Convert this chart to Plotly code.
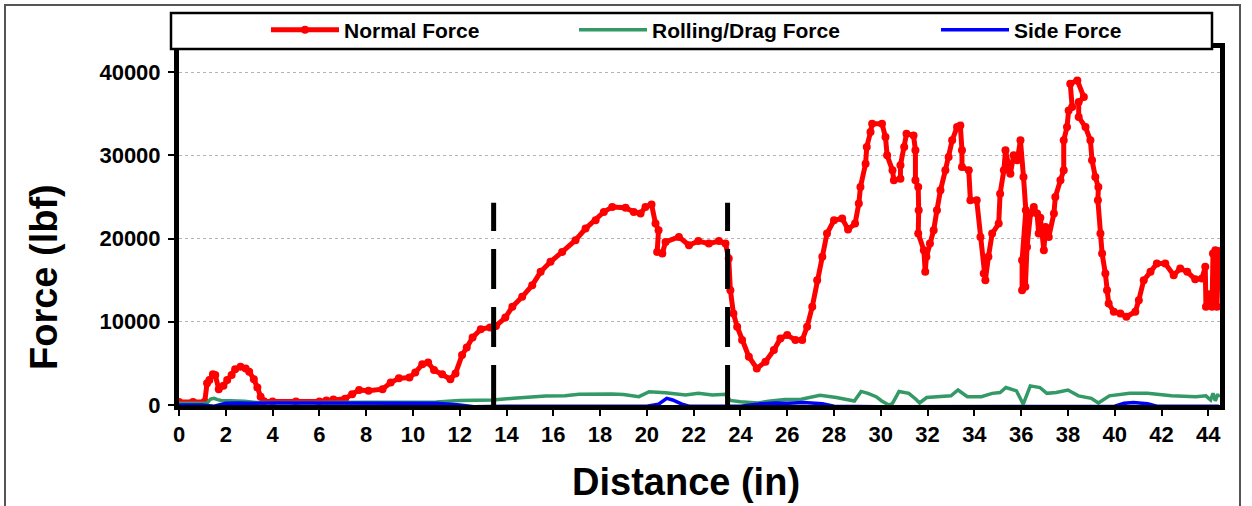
import plotly.graph_objects as go

# Distance (in) and force (lbf) samples for each force component
normal_x = [0, 0.6, 1.1, 1.2, 1.3, 1.45, 1.55, 1.7, 1.9, 2.06, 2.25, 2.4, 2.63, 2.85, 3.0, 3.2, 3.35, 3.49, 3.63,
            4.0, 5.0, 6.0, 6.3, 6.6, 7.1, 7.4, 7.7, 8.1, 8.7, 9.05, 9.4, 9.85, 10.1, 10.4, 10.65, 10.9, 11.25,
            11.6, 11.82, 12.1, 12.3, 12.55, 12.9, 13.3, 13.55, 13.95, 14.25, 14.67, 15.1, 15.46, 15.88, 16.38,
            16.95, 17.38, 17.81, 18.16, 18.52, 19.09, 19.44, 19.73, 19.94, 20.2, 20.37, 20.5, 20.44, 20.66,
            20.8, 21.37, 21.8, 22.2, 22.65, 23.08, 23.36, 23.5, 23.57, 23.7, 23.86, 24.07, 24.36, 24.7, 25.07,
            25.43, 25.71, 26.0, 26.35, 26.64, 26.85, 27.07, 27.28, 27.5, 27.7, 28.0, 28.35, 28.6, 28.9, 29.06,
            29.13, 29.35, 29.4, 29.56, 29.63, 30.05, 30.2, 30.27, 30.5, 30.56, 30.84, 30.84, 31.0, 31.1, 31.4,
            31.48, 31.48, 31.6, 31.62, 31.6, 31.84, 31.9, 31.95, 32.1, 32.26, 32.4, 32.55, 32.76, 32.9, 33.05,
            33.26, 33.4, 33.47, 33.47, 33.76, 33.83, 34.1, 34.26, 34.4, 34.47, 34.6, 34.76, 35.04, 35.1, 35.26,
            35.33, 35.54, 35.68, 35.83, 35.97, 36.1, 36.2, 36.04, 36.04, 36.18, 36.25, 36.4, 36.54, 36.68,
            36.75, 36.82, 36.97, 37.04, 37.18, 37.4, 37.46, 37.68, 37.82, 37.82, 37.96, 38.03, 38.18, 38.1,
            38.4, 38.68, 38.46, 38.46, 38.75, 38.96, 39.03, 39.17, 39.3, 39.28, 39.39, 39.46, 39.6, 39.67,
            39.74, 39.96, 40.24, 40.5, 40.88, 41.03, 41.24, 41.53, 41.8, 42.16, 42.52, 42.8, 43.1, 43.44,
            43.73, 43.87, 43.9, 44.02, 44.16, 44.2, 44.3, 44.37, 44.44]
normal_f = [350, 350, 380, 2600, 3000, 3700, 3600, 1900, 2300, 3000, 3600, 4300, 4600, 4400, 4000, 3100, 2100, 1000, 450,
            420, 420, 430, 550, 650, 750, 1300, 1800, 1700, 1900, 2700, 3200, 3300, 3900, 4900, 5100, 4200, 3700,
            3100, 3800, 6000, 6900, 8100, 9100, 9300, 9500, 10500, 11800, 13000, 14400, 16000, 17200, 18400,
            19800, 21200, 22200, 23200, 23800, 23700, 23200, 23000, 23800, 24100, 21800, 21000, 18400, 18200,
            19600, 20200, 19200, 19700, 19400, 19700, 19400, 17600, 13800, 11000, 9400, 7800, 5800, 4400, 5200,
            6600, 8000, 8400, 7800, 7800, 9400, 11800, 15000, 17800, 20600, 22200, 22400, 21100, 21800, 24200,
            26200, 29000, 31000, 32800, 33800, 33800, 32200, 30000, 28200, 27000, 27200, 28800, 31000, 32600, 32400,
            30600, 27000, 26200, 23400, 20600, 18600, 16000, 17800, 19400, 21000, 23400, 25800, 28200, 29800, 31800,
            33400, 33600, 30600, 28600, 28200, 24600, 24600, 20200, 15800, 15000, 17800, 20600, 21800, 25400, 28200,
            30600, 27800, 30000, 29400, 31800, 27400, 23400, 17400, 13800, 14200, 19000, 23000, 23800, 23000,
            20600, 22500, 18600, 21400, 20200, 23000, 25000, 27000, 28200, 31800, 33400, 35400, 35800, 38600,
            39000, 37000, 36400, 34600, 33400, 31800, 29400, 27400, 26200, 24600, 20600, 18200, 15800, 13800,
            12200, 11200, 11000, 10600, 11200, 12600, 15000, 16000, 17000, 17000, 15600, 16400, 16000, 15100,
            15200, 16600, 11800, 13300, 11800, 18200, 18600, 11800, 18500]

rolling_x = [0, 1.2, 1.35, 1.5, 1.65, 1.8, 2.2, 2.8, 3.3, 4.0, 6.0, 8.0, 10.0, 11.0, 12.0, 13.4, 14.3, 15.67,
             16.5, 17.1, 18.5, 19.0, 19.66, 20.1, 20.8, 21.65, 22.2, 22.8, 23.36, 23.56, 24.0, 24.74, 25.2,
             25.9, 26.6, 27.4, 28.1, 28.87, 29.16, 29.45, 29.8, 30.04, 30.34, 30.5, 30.78, 31.2, 31.5, 31.66,
             31.96, 32.5, 33.0, 33.3, 33.7, 34.3, 34.76, 35.1, 35.35, 35.8, 36.09, 36.39, 36.8, 37.1, 37.5,
             38.0, 38.45, 39.0, 39.3, 39.77, 40.64, 41.4, 42.43, 43.46, 43.9, 44.1, 44.2, 44.3, 44.4, 44.45]
rolling_f = [200, 250, 700, 800, 650, 550, 500, 450, 300, 280, 300, 320, 400, 350, 550, 600, 800, 1080,
             1100, 1280, 1320, 1250, 1000, 1600, 1480, 1200, 1400, 1200, 1280, 550, 400, 240, 450,
             650, 700, 1170, 900, 480, 1630, 1400, 1000, 480, 0, 200, 1630, 1400, 700, 240,
             900, 950, 1100, 1800, 1000, 1000, 1400, 1500, 2100, 1700, 100, 2300, 2100, 1400, 1500,
             1800, 1100, 800, 240, 1100, 1400, 1400, 1100, 1000, 1100, 600, 1400, 500, 1300, 900]

side_x = [0, 1.0, 1.5, 2.0, 2.5, 3.0, 4.0, 6.0, 8.0, 10.0, 11.0, 12.0, 12.6, 14.0, 16.0, 18.0, 20.0, 20.5,
          20.85, 21.1, 21.5, 21.8, 24.0, 24.9, 25.5, 26.0, 26.7, 27.5, 28.0, 30.0, 35.0, 40.0, 40.4, 40.8,
          41.4, 41.8, 44.45]
side_f = [0, 0, -150, 200, 250, 200, 250, 250, 250, 250, 200, 0, -200, -150, -150, -150, -150, 100,
          800, 600, 100, -150, -150, 150, 250, 200, 300, 150, -150, -200, -200, -150, 200, 300,
          150, -150, -150]

# Start and end of the region of interest
marker_lines = [13.45, 23.45]
marker_top = 24300

x_ticks = list(range(0, 45, 2))
y_ticks = [0, 10000, 20000, 30000, 40000]

FONT = "Liberation Sans, Arial, sans-serif"
L, R, T, B = 179, 32, 48, 101
W, H = 1252, 506
PW, PH = W - L - R, H - T - B


def px(xp):
    return (xp - L) / PW


def py(yp):
    return (H - B - yp) / PH


fig = go.Figure()
fig.add_trace(go.Scatter(
    x=normal_x, y=normal_f, name="Normal Force", mode="lines+markers",
    line=dict(color="#FF0000", width=5), marker=dict(color="#FF0000", size=8),
    legend="legend"))
fig.add_trace(go.Scatter(
    x=rolling_x, y=rolling_f, name="Rolling/Drag Force", mode="lines",
    line=dict(color="#339966", width=3.5), legend="legend2"))
fig.add_trace(go.Scatter(
    x=side_x, y=side_f, name="Side Force", mode="lines",
    line=dict(color="#0000FF", width=3.5), legend="legend3"))

for xv in marker_lines:
    fig.add_shape(type="line", xref="x", yref="y", x0=xv, x1=xv, y0=0, y1=marker_top,
                  line=dict(color="black", width=5, dash="40px,18px"))

# Outer chart frame
fig.add_shape(type="rect", xref="paper", yref="paper", layer="below",
              x0=px(5), x1=px(1240), y0=py(520), y1=py(5),
              line=dict(color="#555555", width=2), fillcolor="rgba(0,0,0,0)")
# Legend box
fig.add_shape(type="rect", xref="paper", yref="paper", layer="above",
              x0=px(171), x1=px(1212), y0=py(49), y1=py(13),
              line=dict(color="black", width=2.5), fillcolor="white")

leg_common = dict(yanchor="middle", xanchor="left", y=py(30), bgcolor="rgba(0,0,0,0)",
                  borderwidth=0, itemwidth=68,
                  font=dict(family=FONT, size=21, color="black", weight="bold"))

fig.update_layout(
    width=W, height=H,
    margin=dict(l=L, r=R, t=T, b=B, autoexpand=False),
    paper_bgcolor="white", plot_bgcolor="white",
    showlegend=True,
    legend=dict(x=px(266), **leg_common),
    legend2=dict(x=px(574), **leg_common),
    legend3=dict(x=px(936), **leg_common),
    xaxis=dict(range=[0, 44.5], tickvals=x_ticks, ticktext=[str(v) for v in x_ticks],
               showline=True, linecolor="black", linewidth=5, mirror=True,
               ticks="outside", ticklen=6, tickwidth=1.5, tickcolor="black",
               showgrid=False, zeroline=False,
               tickfont=dict(family=FONT, size=22, color="black", weight="bold")),
    yaxis=dict(range=[0, 42900], tickvals=y_ticks, ticktext=[str(v) for v in y_ticks],
               showline=True, linecolor="black", linewidth=5, mirror=True,
               ticks="outside", ticklen=6, tickwidth=1.5, tickcolor="black",
               ticklabelstandoff=3,
               showgrid=True, gridcolor="#b4b4b4", griddash="dot", gridwidth=1,
               zeroline=False,
               tickfont=dict(family=FONT, size=22, color="black", weight="bold")),
    annotations=[
        dict(text="Distance (in)", xref="paper", yref="paper", x=px(686), y=py(482),
             xanchor="center", yanchor="middle", showarrow=False,
             font=dict(family=FONT, size=38, color="black", weight="bold")),
        dict(text="Force (lbf)", xref="paper", yref="paper", x=px(44), y=py(277),
             xanchor="center", yanchor="middle", showarrow=False, textangle=-90,
             font=dict(family=FONT, size=38, color="black", weight="bold")),
    ],
)

fig.write_html("out.html")
